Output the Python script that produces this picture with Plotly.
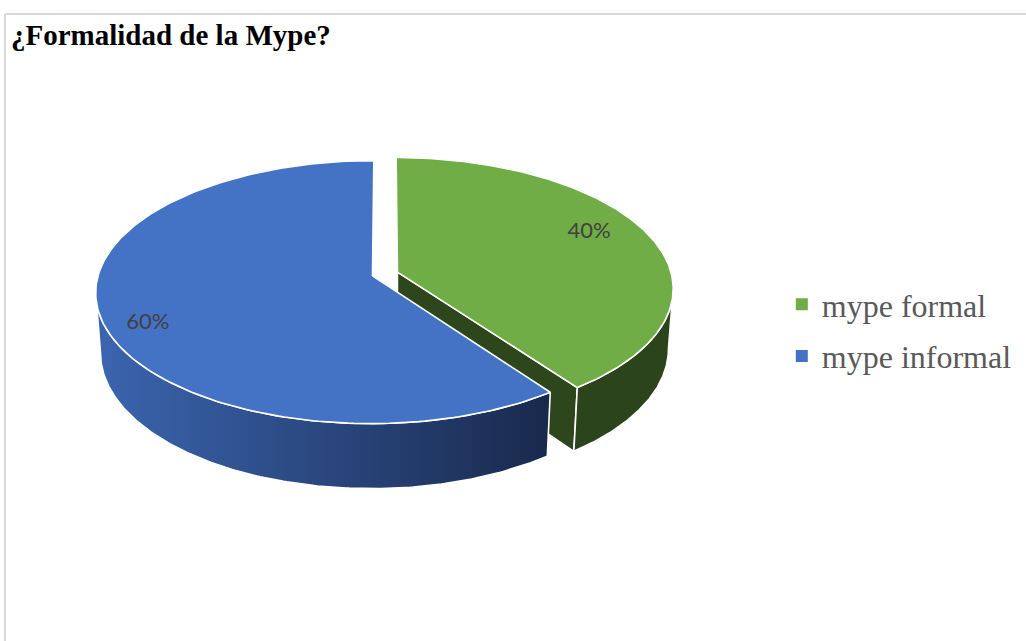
import numpy as np
import plotly.graph_objects as go

# ---------------- data ----------------
labels = ["mype formal", "mype informal"]
values = [40, 60]

# ---------------- styles ----------------
top_colors = ["#70AD47", "#4472C4"]
side_colors = ["#2C441B", None]          # None -> gradient
side_gradients = [None, [[0, "#3B65B0"], [1, "#19294C"]]]
radial_colors = ["#2D461C", "#22386A"]

W, H_PX = 1026, 641

# 3D perspective projection of the pie (pixel space)
ALPHA = np.radians(28.1)
C, S = np.cos(ALPHA), np.sin(ALPHA)
DIST = 7.18
FOC = 1967.0
OX, OY = 385.0, 274.0
EXPLODE = 0.048
DEPTH = 0.25
CAM = np.array([0.0, -DIST * C, DIST * S])


def project(u, v, w):
    u, v, w = np.asarray(u, float), np.asarray(v, float), np.asarray(w, float)
    yc = v * S + w * C
    z = DIST + v * C - w * S
    return OX + FOC * u / z, OY - FOC * yc / z


total = float(sum(values))
angles = np.cumsum([0] + [v / total * 360.0 for v in values])
theta_sil = np.degrees(np.arccos(-C / DIST))  # silhouette angles of the side

fig = go.Figure()

faces, sides, tops, label_pts = [], [], [], []
for i, (lab, val) in enumerate(zip(labels, values)):
    a, b = angles[i], angles[i + 1]
    mid = np.radians((a + b) / 2)
    ou, ov = EXPLODE * np.sin(mid), EXPLODE * np.cos(mid)

    # top face
    th = np.radians(np.linspace(a, b, 200))
    tu = np.concatenate([[ou], ou + np.sin(th), [ou]])
    tv = np.concatenate([[ov], ov + np.cos(th), [ov]])
    tx, ty = project(tu, tv, np.zeros_like(tu))
    tops.append((tx, ty, top_colors[i]))

    # outer side (visible front part)
    lo, hi = max(a, theta_sil), min(b, 360 - theta_sil)
    if hi > lo:
        th = np.radians(np.linspace(lo, hi, 200))
        su = ou + np.sin(th)
        sv = ov + np.cos(th)
        x1, y1 = project(su, sv, np.zeros_like(su))
        x2, y2 = project(su[::-1], sv[::-1], -DEPTH * np.ones_like(su))
        sides.append((np.concatenate([x1, x2, x1[:1]]), np.concatenate([y1, y2, y1[:1]]), i))

    # radial faces
    for t, sign in ((a, -1), (b, 1)):
        tr = np.radians(t)
        normal = sign * np.array([np.cos(tr), -np.sin(tr), 0.0])
        p = np.array([ou + 0.5 * np.sin(tr), ov + 0.5 * np.cos(tr), -DEPTH / 2])
        if np.dot(normal, CAM - p) > 0.5:
            fu = [ou, ou + np.sin(tr), ou + np.sin(tr), ou, ou]
            fv = [ov, ov + np.cos(tr), ov + np.cos(tr), ov, ov]
            fw = [0, 0, -DEPTH, -DEPTH, 0]
            fx, fy = project(fu, fv, fw)
            faces.append((fx, fy, radial_colors[i]))

    # label position
    la = mid - np.radians(6)
    lx, ly = project(ou + 0.83 * np.sin(la), ov + 0.83 * np.cos(la), 0)
    label_pts.append((float(lx) - 7, float(ly) + 2, f"{val / total * 100:.0f}%"))

line_w = dict(color="white", width=1.6)
for fx, fy, col in faces:
    fig.add_trace(go.Scatter(x=fx, y=fy, fill="toself", fillcolor=col, mode="lines",
                             line=line_w, showlegend=False, hoverinfo="skip"))
for sx, sy, i in sides:
    kw = {}
    if side_gradients[i] is not None:
        kw["fillgradient"] = dict(type="horizontal", colorscale=side_gradients[i])
    else:
        kw["fillcolor"] = side_colors[i]
    fig.add_trace(go.Scatter(x=sx, y=sy, fill="toself", mode="lines",
                             line=line_w, showlegend=False, hoverinfo="skip", **kw))
for tx, ty, col in tops:
    fig.add_trace(go.Scatter(x=tx, y=ty, fill="toself", fillcolor=col, mode="lines",
                             line=line_w, showlegend=False, hoverinfo="skip"))

fig.add_trace(go.Scatter(
    x=[p[0] for p in label_pts], y=[p[1] for p in label_pts],
    text=[p[2] for p in label_pts], mode="text",
    textfont=dict(family="Lato", size=22, color="#404040"),
    showlegend=False, hoverinfo="skip"))

# legend entries
for k, (lab, col) in enumerate(zip(labels, top_colors)):
    fig.add_trace(go.Scatter(x=[None], y=[None], mode="markers", name=lab,
                             legendgroup=f"g{k}",
                             marker=dict(symbol="square", size=9, color=col)))

fig.add_annotation(x=9, y=35, xref="x", yref="y", text="¿Formalidad de la Mype?",
                   showarrow=False, xanchor="left", yanchor="middle",
                   font=dict(family="Liberation Serif", size=29, color="black", weight="bold"))

# chart area border (top and left visible)
fig.add_shape(type="line", x0=5, x1=W, y0=14, y1=14, xref="x", yref="y",
              line=dict(color="#D9D9D9", width=2))
fig.add_shape(type="line", x0=5, x1=5, y0=14, y1=H_PX, xref="x", yref="y",
              line=dict(color="#D9D9D9", width=2))

fig.update_layout(
    width=W, height=H_PX, autosize=False,
    margin=dict(l=0, r=0, t=0, b=0),
    paper_bgcolor="white", plot_bgcolor="white",
    xaxis=dict(range=[0, W], visible=False, fixedrange=True),
    yaxis=dict(range=[H_PX, 0], visible=False, fixedrange=True),
    legend=dict(x=0.762, y=1 - 277 / H_PX, xanchor="left", yanchor="top",
                font=dict(family="Liberation Serif", size=32, color="#595959"),
                bgcolor="rgba(0,0,0,0)", itemsizing="constant", tracegroupgap=7,
                traceorder="grouped"),
    hovermode=False,
)

fig.write_html("out.html", config={"displayModeBar": False},
               post_script="document.body.style.margin='0';")
